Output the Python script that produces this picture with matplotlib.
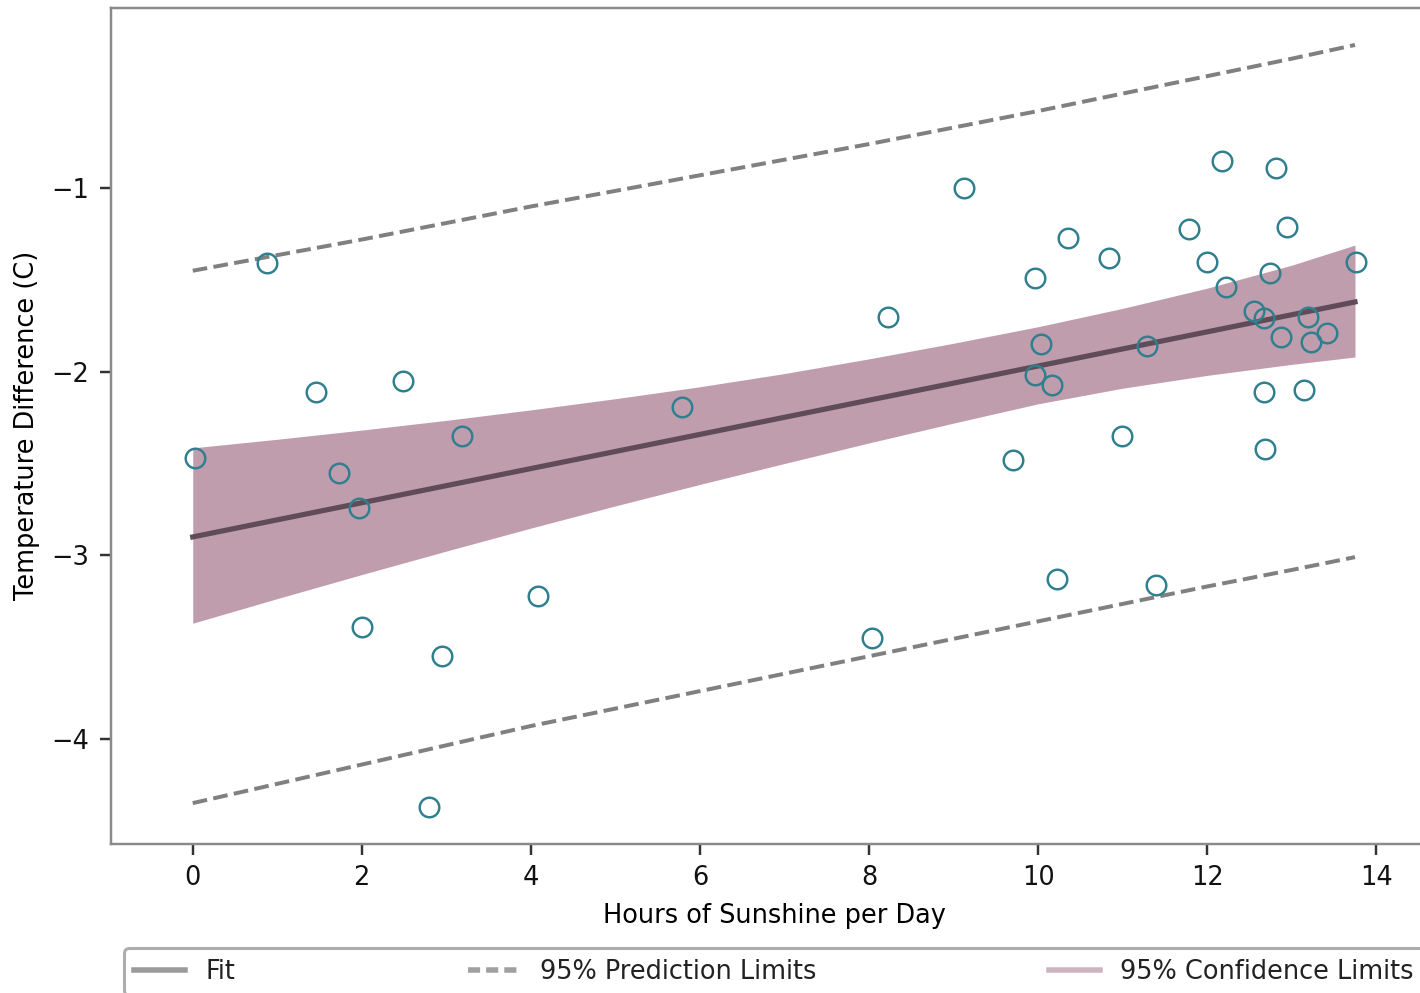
"""Temperature difference vs hours of sunshine: linear fit with 95% bands.

Run directly:
    python plot.py
"""

import matplotlib
matplotlib.use("Agg")
import matplotlib.pyplot as plt
from matplotlib.lines import Line2D

# --- observations -----------------------------------------------------------
HOURS = [0.03, 0.88, 1.46, 1.73, 1.97, 2.00, 2.49, 2.95, 3.19, 2.80,
         4.09, 5.79, 8.03, 8.22, 9.12, 9.70, 9.97, 10.03, 9.97, 10.16,
         10.23, 10.36, 10.84, 10.99, 11.29, 11.39, 11.79, 12.00, 12.18, 12.22,
         12.55, 12.67, 12.67, 12.69, 12.75, 12.82, 12.87, 12.94, 13.19, 13.15,
         13.23, 13.42, 13.76]
TEMP_DIFF = [-2.47, -1.41, -2.11, -2.55, -2.74, -3.39, -2.05, -3.55, -2.35, -4.37,
             -3.22, -2.19, -3.45, -1.70, -1.00, -2.48, -1.49, -1.85, -2.02, -2.07,
             -3.13, -1.27, -1.38, -2.35, -1.86, -3.16, -1.22, -1.40, -0.85, -1.54,
             -1.67, -1.71, -2.11, -2.42, -1.46, -0.89, -1.81, -1.21, -1.70, -2.10,
             -1.84, -1.79, -1.40]

# --- fit line (straight, two ends) -----------------------------------------
FIT_X = [0, 13.75]
FIT_Y = [-2.90, -1.62]

# --- limits ----------------------------------------------------------------
GRID = [0, 1, 2, 3, 4, 5, 6, 7, 8, 9, 10, 11, 12, 13, 13.75]
CONF_LO = [-3.37, -3.236, -3.105, -2.977, -2.852, -2.731, -2.614, -2.500,
           -2.388, -2.28, -2.175, -2.09, -2.02, -1.96, -1.92]
CONF_HI = [-2.415, -2.368, -2.318, -2.265, -2.208, -2.147, -2.082, -2.01,
           -1.93, -1.845, -1.755, -1.655, -1.545, -1.42, -1.31]
PRED_LO = [-4.35, -4.245, -4.14, -4.035, -3.93, -3.835, -3.74, -3.645, -3.55,
           -3.455, -3.36, -3.265, -3.17, -3.08, -3.01]
PRED_HI = [-1.45, -1.365, -1.28, -1.19, -1.10, -1.015, -0.93, -0.845, -0.76,
           -0.67, -0.58, -0.485, -0.39, -0.295, -0.22]

LEGEND_LABELS = ["Fit", "95% Prediction Limits", "95% Confidence Limits"]

BAND_COLOR = "#bf9dad"
FIT_COLOR = "#604c58"
PRED_COLOR = "#808080"
POINT_COLOR = "#2f7f8e"
SPINE_COLOR = "#8a8a8a"


def main():
    plt.rcParams["font.family"] = ["DejaVu Sans"]
    plt.rcParams["font.size"] = 8.4

    fig = plt.figure(figsize=(1420 / 220, 993 / 220), dpi=220)
    ax = fig.add_axes([111 / 1420, 1 - 843.5 / 993, 1326 / 1420, 836 / 993])

    ax.fill_between(GRID, CONF_LO, CONF_HI, color=BAND_COLOR, lw=0)
    ax.plot(FIT_X, FIT_Y, color=FIT_COLOR, lw=1.7)
    ax.plot(GRID, PRED_HI, color=PRED_COLOR, ls="--", lw=1.3)
    ax.plot(GRID, PRED_LO, color=PRED_COLOR, ls="--", lw=1.3)
    ax.plot(HOURS, TEMP_DIFF, "o", ms=6.4, mfc="none", mec=POINT_COLOR, mew=0.8)

    ax.set_xlim(-0.967, 14.72)
    ax.set_ylim(-4.57, -0.016)
    ax.set_xticks([0, 2, 4, 6, 8, 10, 12, 14])
    ax.set_yticks([-4, -3, -2, -1])
    ax.set_xlabel("Hours of Sunshine per Day")
    ax.set_ylabel("Temperature Difference (C)")
    for sp in ax.spines.values():
        sp.set_color(SPINE_COLOR)
    ax.tick_params(color="#333333", labelcolor="#111111")

    # legend handles are drawn lighter than the plotted lines
    handles = [
        Line2D([], [], color="#9a9a9a", lw=1.8),
        Line2D([], [], color="#a0a0a0", lw=1.8, ls=(0, (2.2, 1.1))),
        Line2D([], [], color="#cdb3c0", lw=1.8),
    ]
    leg = ax.legend(handles, LEGEND_LABELS, ncol=3, mode="expand",
                    loc="upper left", bbox_to_anchor=(0, -0.11, 1, 0),
                    borderaxespad=0.5, frameon=True, fancybox=True)
    leg.get_frame().set_edgecolor("#999999")
    for txt in leg.get_texts():
        txt.set_color("#222222")

    fig.savefig("out.png", dpi=220)


if __name__ == "__main__":
    main()
